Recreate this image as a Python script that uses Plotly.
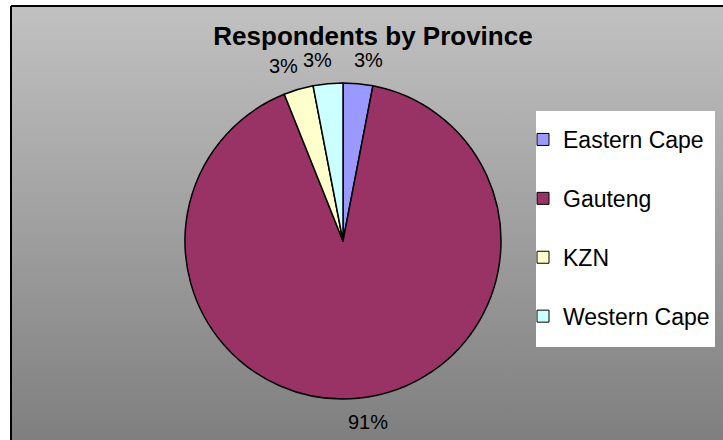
import base64
import math
import plotly.graph_objects as go

# ---- data ----
provinces = ["Eastern Cape", "Gauteng", "KZN", "Western Cape"]
respondents = [1, 30, 1, 1]
slice_colors = ["#9999FF", "#993366", "#FFFFCC", "#CCFFFF"]
chart_title = "Respondents by Province"

W, H = 723, 440
FONT = "Liberation Sans, Arial, sans-serif"

# pie geometry (pixels)
CX, CY, R = 343, 241, 158
LABEL_R = 182

fig = go.Figure()

fig.add_trace(go.Pie(
    labels=provinces,
    values=respondents,
    sort=False,
    direction="clockwise",
    rotation=0,
    marker=dict(colors=slice_colors, line=dict(color="black", width=1.5)),
    textinfo="none",
    textposition="none",
    showlegend=False,
    domain=dict(x=[(CX - R) / W, (CX + R) / W], y=[1 - (CY + R) / H, 1 - (CY - R) / H]),
    hoverinfo="label+percent",
))

# percentage labels placed outside each slice, from the data
total = sum(respondents)
annotations = []
cum = 0
for v in respondents:
    theta = 2 * math.pi * (cum + v / 2) / total
    cum += v
    s, c = math.sin(theta), math.cos(theta)
    px = CX + LABEL_R * s
    py = CY - LABEL_R * c
    annotations.append(dict(
        text=f"{round(100 * v / total)}%", xref="paper", yref="paper",
        x=px / W, y=1 - py / H, xanchor="center", yanchor="middle",
        xshift=8 if s > 0 else -8, showarrow=False, borderpad=0,
        font=dict(family=FONT, size=20, color="black"),
    ))

# legend entries (one per category)
for name, col in zip(provinces, slice_colors):
    fig.add_trace(go.Scatter(
        x=[None], y=[None], mode="markers", name=name, legendgroup=name,
        marker=dict(symbol="square", size=12, color=col, line=dict(color="black", width=1)),
        showlegend=True,
    ))

svg = ("<svg xmlns='http://www.w3.org/2000/svg' width='712' height='434' preserveAspectRatio='none'>"
       "<defs><linearGradient id='g' x1='0' y1='0' x2='0' y2='1'>"
       "<stop offset='0' stop-color='#c1c1c1'/><stop offset='1' stop-color='#7f7f7f'/>"
       "</linearGradient></defs><rect width='100%' height='100%' fill='url(#g)'/></svg>")
src = "data:image/svg+xml;base64," + base64.b64encode(svg.encode()).decode()

fig.update_layout(
    width=W, height=H,
    margin=dict(l=0, r=0, t=0, b=0),
    paper_bgcolor="white",
    plot_bgcolor="rgba(0,0,0,0)",
    xaxis=dict(visible=False),
    yaxis=dict(visible=False),
    annotations=annotations,
    images=[dict(source=src, xref="paper", yref="paper", x=11 / W, y=1 - 6 / H,
                 sizex=1 - 11 / W, sizey=434 / H, xanchor="left", yanchor="top",
                 sizing="stretch", layer="below")],
    shapes=[
        dict(type="rect", xref="paper", yref="paper", x0=536 / W, x1=715 / W,
             y0=1 - 347 / H, y1=1 - 111 / H, fillcolor="white", line=dict(width=0), layer="below"),
        dict(type="line", xref="paper", yref="paper", x0=11 / W, x1=1, y0=1 - 6 / H, y1=1 - 6 / H,
             line=dict(color="black", width=2)),
        dict(type="line", xref="paper", yref="paper", x0=11 / W, x1=11 / W, y0=0, y1=1 - 6 / H,
             line=dict(color="black", width=2)),
    ],
    title=dict(text="<b>" + chart_title + "</b>", x=373 / W, xanchor="center",
               y=1 - 36 / H, yanchor="middle",
               font=dict(family=FONT, size=26, color="black")),
    legend=dict(x=523 / W, y=1 - 118 / H, xanchor="left", yanchor="top",
                bgcolor="rgba(0,0,0,0)", borderwidth=0, tracegroupgap=26,
                font=dict(family=FONT, size=23, color="black")),
)

fig.write_html("out.html", config={"displayModeBar": False},
               post_script="document.body.style.margin='0';document.body.style.overflow='hidden';")
